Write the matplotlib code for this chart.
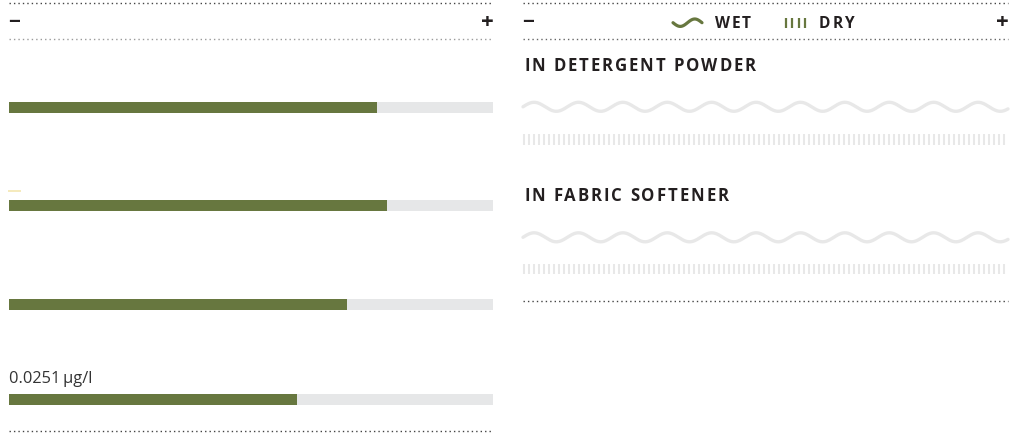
import matplotlib.pyplot as plt
import numpy as np

# bar values (share of the full track)
bar_values = [0.760, 0.782, 0.698, 0.595]
bar_label = "0.0251\u2009µg/l"

# right panel sections
sections = ["IN DETERGENT POWDER", "IN FABRIC SOFTENER"]
legend_items = ["WET", "DRY"]

GREEN = "#67773f"
TRACK = "#e6e7e8"
INK = "#231f20"
PATTERN = "#e8e8e8"

plt.rcParams['font.family'] = ['Open Sans', 'DejaVu Sans']

W, H = 1010, 435
fig = plt.figure(figsize=(W / 100, H / 100), dpi=100)

# overlay in pixel coordinates for rules, texts and patterns
ov = fig.add_axes([0, 0, 1, 1])
ov.set_xlim(0, W)
ov.set_ylim(H, 0)
ov.axis('off')

# bars axes: x in value units, y in pixels
bx = fig.add_axes([9 / W, 0, 484 / W, 1])
bx.set_xlim(0, 1)
bx.set_ylim(H, 0)
bx.axis('off')

bar_y = [108.5, 206.5, 305.5, 400.5]
for y, v in zip(bar_y, bar_values):
    bx.barh(y, 1.0, height=11, color=TRACK, edgecolor='none')
    bx.barh(y, v, height=11, color=GREEN, edgecolor='none')

ov.text(9, 383.5, bar_label, fontsize=11.8, color='#333333',
        ha='left', va='baseline')
# small accent mark above second bar
ov.plot([8, 21], [192, 192], color='#f3e6b0', lw=1.2, solid_capstyle='butt')

renderer = fig.canvas.get_renderer()


def spaced_text(x, y, s, size, track, **kw):
    # letter-spaced text, one glyph at a time
    cur = x
    for ch in s:
        if ch == ' ':
            cur += 0.26 * size * 100 / 72 + track
            continue
        t = ov.text(cur, y, ch, fontsize=size, ha='left', va='baseline', **kw)
        cur += t.get_window_extent(renderer).width + track


# dotted rules
def rule(x0, x1, y, color=INK, lw=1.0):
    ov.plot([x0, x1], [y, y], color=color, lw=lw, ls=(0, (1, 2.2)))


rule(9, 493, 4, '#444444')
rule(9, 493, 40, '#9a9a9a')
rule(9, 493, 432, '#444444')
rule(523, 1008, 4, '#444444')
rule(523, 1008, 40, '#666666')
rule(523, 1008, 302, '#444444')

# minus / plus
for x0, x1 in [(9, 493), (523, 1008)]:
    ov.text(x0 - 1, 22.5, "\u2212", fontsize=15, fontweight='bold', color=INK,
            ha='left', va='center')
    ov.text(x1 + 1, 22.5, "+", fontsize=16, fontweight='bold', color=INK,
            ha='right', va='center')

# legend
lx = np.linspace(673, 702, 80)
ov.plot(lx, 23.7 + 3.7 * np.sin(2 * np.pi * (lx - 673) / 29), color=GREEN,
        lw=2.3, solid_capstyle='round')
spaced_text(715, 28.5, legend_items[0], 11.2, 1.8, fontweight='bold', color=INK)
for sx in np.linspace(786, 805, 4):
    ov.plot([sx, sx], [19, 29], color=GREEN, lw=1.6, solid_capstyle='butt')
spaced_text(819, 28.5, legend_items[1], 11.2, 1.8, fontweight='bold', color=INK)

# sections: heading, wet wave, dry stripes
head_y = [70.8, 200.8]
wave_y = [107.8, 238.3]
dry_y = [(135, 146), (265, 275)]
period = 44.4
for name, hy, wy, (d0, d1) in zip(sections, head_y, wave_y, dry_y):
    spaced_text(524, hy, name, 12.1, 1.9, fontweight='bold', color=INK)
    wx = np.linspace(523, 1008, 600)
    ov.plot(wx, wy - 4.5 * np.sin(2 * np.pi * (wx - 523) / period),
            color=PATTERN, lw=2.4, solid_capstyle='round')
    ov.vlines(np.arange(524, 1008, 5), d0, d1, color=PATTERN, lw=1.5)

fig.savefig("out.png", dpi=100, facecolor='white')
